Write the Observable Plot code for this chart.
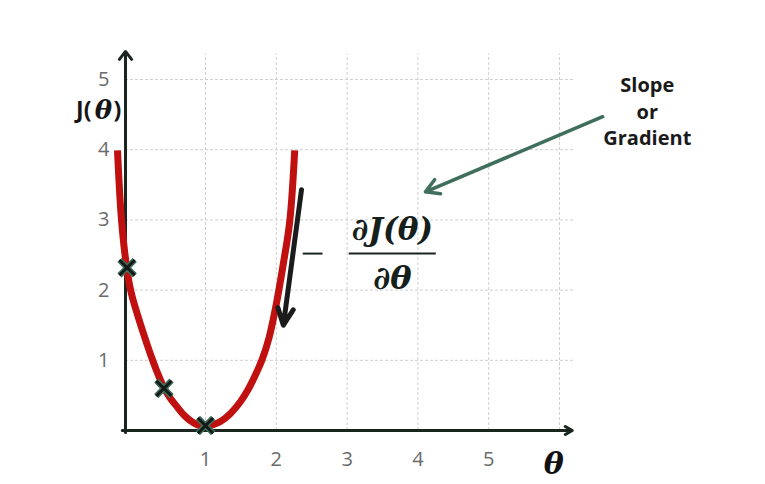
<!DOCTYPE html>
<html>
<head>
<meta charset="utf-8">
<script src="https://cdn.jsdelivr.net/npm/d3@7"></script>
<script src="https://cdn.jsdelivr.net/npm/@observablehq/plot@0.6"></script>
<style>
  html, body { margin: 0; padding: 0; background: #ffffff; }
  #chart svg { display: block; }
</style>
</head>
<body>
<div id="chart"></div>
<script>
// ---- data (theta, J(theta)) ----
const thetaTicks = [1, 2, 3, 4, 5];
const jTicks = [1, 2, 3, 4, 5];
const gridTheta = [1, 2, 3, 4, 5, 6];

const curveTheta = [-0.10, -0.05, 0.015, 0.07, 0.15, 0.275, 0.33, 0.40, 0.48, 0.56, 0.65, 0.73, 0.81, 0.90, 1.0, 1.10, 1.20, 1.35, 1.50, 1.60, 1.70, 1.80, 1.90, 2.00, 2.10, 2.19, 2.26];
const curveJ     = [ 3.99,  3.00, 2.32,  1.97, 1.65, 1.21,  1.03, 0.82, 0.61, 0.46, 0.33, 0.22, 0.14, 0.08, 0.06, 0.08, 0.12, 0.24, 0.42, 0.58, 0.78, 1.01, 1.33, 1.80, 2.38, 2.98, 3.99];

const markerTheta = [0.02, 0.48, 1.0];
const markerJ     = [2.32, 0.60, 0.07];

// gradient arrow (down the slope) and pointer arrow
const gradientArrow = [{x1: 2.356, y1: 3.43, x2: 2.10, y2: 1.50}];
const pointerArrow  = [{x1: 6.61, y1: 4.47, x2: 4.107, y2: 3.40}];

// axis extents
const axisX = [{x1: -0.04, y1: 0, x2: 6.18, y2: 0}];
const axisY = [{x1: 0, y1: -0.03, x2: 0, y2: 5.40}];

// annotation anchors (data units)
const numeratorText = [{text: "∂J(θ)", x: 3.64, y: 2.85}];
const denominatorText = [{text: "∂θ", x: 3.64, y: 2.16}];
const fractionBar = [{x1: 3.03, x2: 4.26, y: 2.52}];
const minusBar = [{x1: 2.38, x2: 2.66, y: 2.52}];
const slopeLabel = [{text: "Slope\nor\nGradient", x: 7.24, y: 4.56}];
const yLabel = [{x: -0.35, y: 4.55}];
const xLabel = [{text: "θ", x: 5.92, y: 0}];

const curve = curveTheta.map((t, i) => ({theta: t, J: curveJ[i]}));
const markers = markerTheta.map((t, i) => ({theta: t, J: markerJ[i]}));

// the first grid cell of the drawing is a little wider than the others
const firstCellStretch = 80 / 70.8;
const stretch = t => (t < 1 ? 1 + (t - 1) * firstCellStretch : t);

const chart = Plot.plot({
  width: 765,
  height: 484,
  marginTop: 0, marginRight: 0, marginBottom: 0, marginLeft: 0,
  style: {background: "#ffffff", fontFamily: "Open Sans"},
  x: {transform: stretch, domain: [stretch(0), 6], range: [125, 559], axis: null},
  y: {domain: [0, 5], range: [430, 79], axis: null},
  marks: [
    // dashed grid
    Plot.ruleX(gridTheta, {x: d => d, y1: 0, y2: 5.36, stroke: "#cfcfcf", strokeWidth: 1, strokeDasharray: "3,2"}),
    Plot.ruleY(jTicks, {y: d => d, x1: 0, x2: 6.22, stroke: "#cfcfcf", strokeWidth: 1, strokeDasharray: "3,2"}),
    // axes with arrows
    Plot.arrow(axisX, {x1: "x1", y1: "y1", x2: "x2", y2: "y2", stroke: "#1b2520", strokeWidth: 3, headLength: 4, headAngle: 60}),
    Plot.arrow(axisY, {x1: "x1", y1: "y1", x2: "x2", y2: "y2", stroke: "#1b2520", strokeWidth: 3, headLength: 5, headAngle: 75}),
    // tick labels
    Plot.text(thetaTicks, {x: d => d, y: 0, dy: 29, text: d => String(d), fontSize: 20, fill: "#6a6a6a", fontFamily: "Open Sans"}),
    Plot.text(jTicks, {x: 0, y: d => d, dx: -16, text: d => String(d), textAnchor: "end", fontSize: 20, fill: "#6a6a6a", fontFamily: "Open Sans"}),
    // cost curve
    Plot.line(curve, {x: "theta", y: "J", curve: "catmull-rom", stroke: "#c01010", strokeWidth: 7, strokeLinecap: "butt"}),
    // gradient arrow
    Plot.arrow(gradientArrow, {x1: "x1", y1: "y1", x2: "x2", y2: "y2", stroke: "#1b1b1b", strokeWidth: 5, headLength: 5.5, headAngle: 50}),
    // markers
    Plot.dot(markers, {x: "theta", y: "J", symbol: "times", r: 7, stroke: "#3f6f5c", strokeWidth: 6}),
    Plot.dot(markers, {x: "theta", y: "J", symbol: "times", r: 7, stroke: "#141a17", strokeWidth: 3}),
    // pointer arrow
    Plot.arrow(pointerArrow, {x1: "x1", y1: "y1", x2: "x2", y2: "y2", stroke: "#3f6f5c", strokeWidth: 3.5, headLength: 6.5, headAngle: 60}),
    // derivative fraction
    Plot.ruleY(minusBar, {y: "y", x1: "x1", x2: "x2", stroke: "#1b2520", strokeWidth: 2}),
    Plot.ruleY(fractionBar, {y: "y", x1: "x1", x2: "x2", stroke: "#1b2520", strokeWidth: 2}),
    Plot.text(numeratorText, {x: "x", y: "y", text: "text", fontSize: 31, fontWeight: "bold", fontStyle: "italic", fontFamily: "DejaVu Serif", fill: "#15201b"}),
    Plot.text(denominatorText, {x: "x", y: "y", text: "text", fontSize: 32, fontWeight: "bold", fontStyle: "italic", fontFamily: "DejaVu Serif", fill: "#15201b"}),
    // labels
    Plot.text(slopeLabel, {x: "x", y: "y", text: "text", fontSize: 20, fontWeight: "bold", lineHeight: 1.33, fontFamily: "Open Sans", fill: "#1a1a1a"}),
    Plot.text(yLabel, {x: "x", y: "y", text: () => "J(", dx: -6, textAnchor: "end", fontSize: 23, fontWeight: "bold", fontFamily: "Open Sans", fill: "#151515"}),
    Plot.text(yLabel, {x: "x", y: "y", text: () => "θ", dx: 6, fontSize: 26, fontWeight: "bold", fontStyle: "italic", fontFamily: "DejaVu Serif", fill: "#151515"}),
    Plot.text(yLabel, {x: "x", y: "y", text: () => ")", dx: 16, textAnchor: "start", fontSize: 23, fontWeight: "bold", fontFamily: "Open Sans", fill: "#151515"}),
    Plot.text(xLabel, {x: "x", y: "y", text: "text", dy: 34, fontSize: 30, fontWeight: "bold", fontStyle: "italic", fontFamily: "DejaVu Serif", fill: "#111111"})
  ]
});
document.getElementById("chart").appendChild(chart);
</script>
</body>
</html>
